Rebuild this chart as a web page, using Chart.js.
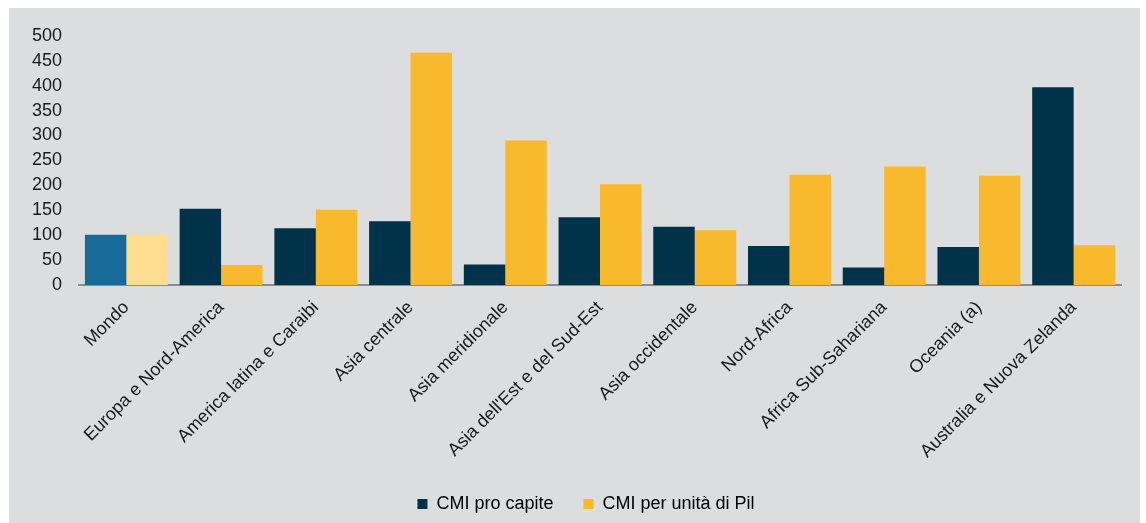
<!DOCTYPE html>
<html>
<head>
<meta charset="utf-8">
<script src="https://cdn.jsdelivr.net/npm/chart.js@4/dist/chart.umd.min.js"></script>
<style>
  html, body { margin: 0; padding: 0; background: #fff; }
  #wrap { position: absolute; left: 9px; top: 8px; width: 1131px; height: 515px; background: #dcdddf; }
</style>
</head>
<body>
<div id="wrap"><canvas id="myChart" width="1131" height="515"></canvas></div>
<script>
const categories = ['Mondo', 'Europa e Nord-America', 'America latina e Caraibi', 'Asia centrale',
  'Asia meridionale', "Asia dell'Est e del Sud-Est", 'Asia occidentale', 'Nord-Africa',
  'Africa Sub-Sahariana', 'Oceania (a)', 'Australia e Nuova Zelanda'];
const proCapite = [101, 153, 114, 128, 41, 136, 117, 78, 35, 76, 397];
const perPil = [101, 40, 151, 466, 290, 202, 110, 221, 238, 219, 80];
const yTicks = [0, 50, 100, 150, 200, 250, 300, 350, 400, 450, 500];

const dark = '#00324a', yellow = '#f9b92c';
const darkMondo = '#186a98', yellowMondo = '#fddd90';
const font = 'Liberation Sans, Arial';

// the original legend sits a bit right of the canvas centre
const nudgeLegend = {
  id: 'nudgeLegend',
  afterLayout(chart) {
    chart.legend.left += 21;
    chart.legend.right += 21;
  }
};

new Chart(document.getElementById('myChart').getContext('2d'), {
  type: 'bar',
  data: {
    labels: categories,
    datasets: [
      {
        label: 'CMI pro capite',
        data: proCapite,
        backgroundColor: categories.map((c, i) => i === 0 ? darkMondo : dark),
        barPercentage: 1,
        categoryPercentage: 0.875
      },
      {
        label: 'CMI per unità di Pil',
        data: perPil,
        backgroundColor: categories.map((c, i) => i === 0 ? yellowMondo : yellow),
        barPercentage: 1,
        categoryPercentage: 0.875
      }
    ]
  },
  plugins: [nudgeLegend],
  options: {
    responsive: false,
    animation: false,
    layout: { padding: { top: 15, right: 19, bottom: 0, left: 0 } },
    plugins: {
      tooltip: { enabled: false },
      legend: {
        position: 'bottom',
        labels: {
          color: '#222',
          font: { family: font, size: 18 },
          boxWidth: 10,
          boxHeight: 10,
          padding: 30,
          generateLabels: () => [
            { text: 'CMI pro capite', fillStyle: dark, strokeStyle: dark, lineWidth: 0, datasetIndex: 0 },
            { text: 'CMI per unità di Pil', fillStyle: yellow, strokeStyle: yellow, lineWidth: 0, datasetIndex: 1 }
          ]
        }
      }
    },
    scales: {
      x: {
        grid: { display: false, drawTicks: false },
        border: { color: '#8a8c8e', width: 2 },
        ticks: {
          color: '#1a1a1a',
          font: { family: font, size: 18 },
          minRotation: 45,
          maxRotation: 45,
          padding: 12,
          autoSkip: false
        },
        afterFit: (s) => { s.height = 180; }
      },
      y: {
        min: 0,
        max: 500,
        grid: { display: false, drawTicks: false },
        border: { display: false },
        afterBuildTicks: (s) => { s.ticks = yTicks.map(v => ({ value: v })); },
        ticks: {
          color: '#1a1a1a',
          font: { family: font, size: 18 },
          padding: 17
        },
        afterFit: (s) => { s.width = 70; }
      }
    }
  }
});
</script>
</body>
</html>
